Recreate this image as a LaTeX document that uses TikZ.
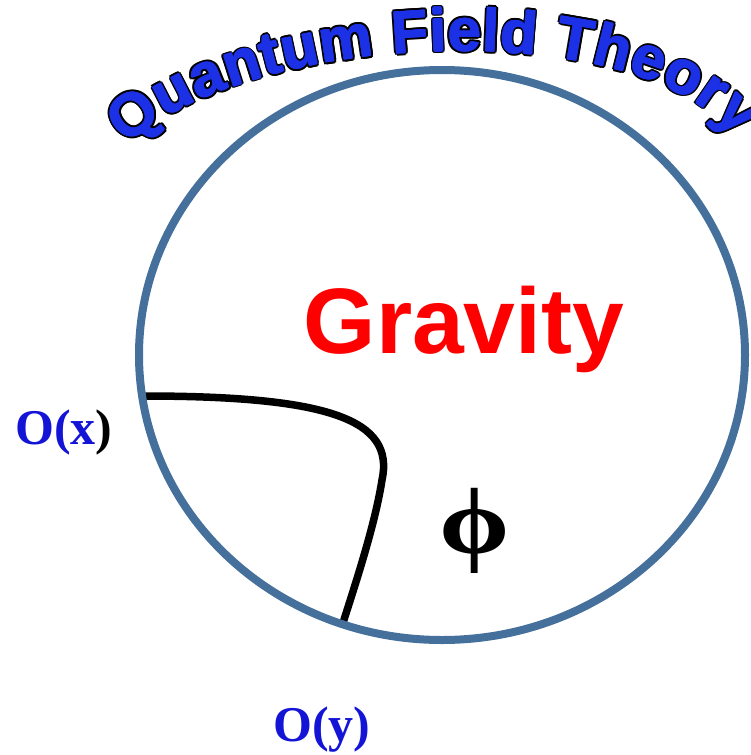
\documentclass[tikz,border=0pt]{standalone}
\usepackage{fontspec}
\newfontfamily\arialf{Liberation Sans}
\newfontfamily\timesf{Liberation Serif}
\usetikzlibrary{decorations.text}
\definecolor{ringblue}{RGB}{70,112,156}
\definecolor{qftblue}{RGB}{28,48,230}
\definecolor{opblue}{RGB}{20,20,215}
\definecolor{gravred}{RGB}{255,0,0}
\newcommand\qftstyle{\arialf\bfseries\fontsize{60}{64}\selectfont}
\tikzset{
  ring/.style={draw=ringblue, line width=8pt},
  worldline/.style={draw=black, line width=7.5pt},
  oplabel/.style={anchor=base west, inner sep=0pt, font=\timesf\bfseries\fontsize{50}{52}\selectfont, text=opblue},
  qftdeco/.style={decorate, decoration={text along path, text={|\qftstyle\color{#1}|Quantum Field Theory}, text align={fit to path}}},
}
\begin{document}
\begin{tikzpicture}[x=1pt,y=-1pt]
\useasboundingbox (0,0) rectangle (750,755);
% world line
\coordinate (px) at (143,396);
\coordinate (py) at (342,626);
\draw[worldline] (px) .. controls (330,396) and (395,420) .. (382,480) .. controls (375,525) and (355,585) .. (py);
% boundary
\draw[ring] (442,355) ellipse [x radius=303pt, y radius=285pt];
% curved title: outline copies then fill
\foreach \a in {0,30,...,330} {
  \begin{scope}[shift={(\a:2.4)}]
    \path[qftdeco=black] (127,146) .. controls (248,30) and (640,12) .. (736,138);
  \end{scope}
}
\foreach \a in {0,60,...,300} {
  \begin{scope}[shift={(\a:0.7)}]
    \path[qftdeco=qftblue] (127,146) .. controls (248,30) and (640,12) .. (736,138);
  \end{scope}
}
% labels
\node[anchor=base, inner sep=0pt, font=\arialf\bfseries\fontsize{93}{95}\selectfont, text=gravred] (grav) at (464,353) {Gravity};
\node[oplabel] (ox) at (15,444) {O(x\textcolor{black}{)}};
\node[oplabel] (oy) at (273,741) {O(y)};
\node[anchor=base, inner sep=0pt, font=\timesf\bfseries\fontsize{94}{96}\selectfont, xscale=1.2] (phi) at (475,553) {ϕ};
\end{tikzpicture}
\end{document}
